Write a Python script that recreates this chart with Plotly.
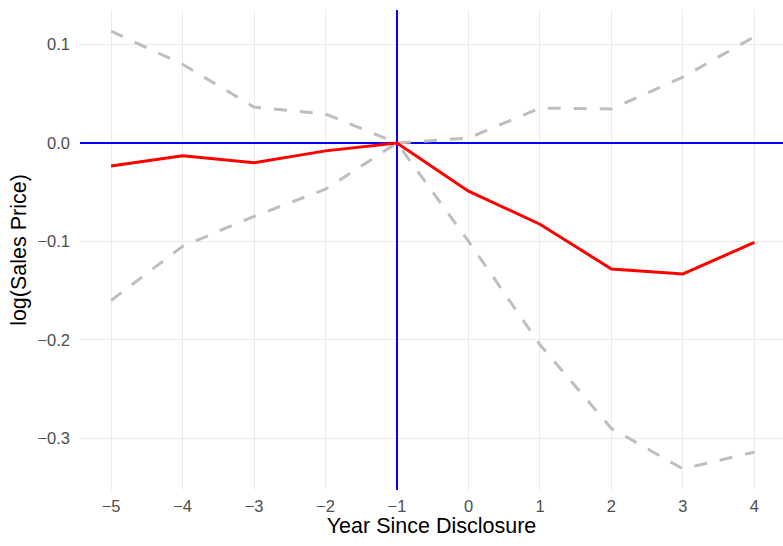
import plotly.graph_objects as go

# Event-study estimates of log sale price around disclosure
years = [-5, -4, -3, -2, -1, 0, 1, 2, 3, 4]
estimate = [-0.0234, -0.0130, -0.0200, -0.0080, 0.0, -0.0490, -0.0825, -0.1280, -0.1330, -0.1010]
upper_ci = [0.1136, 0.0800, 0.0365, 0.0295, 0.0, 0.0050, 0.0355, 0.0345, 0.0670, 0.1080]
lower_ci = [-0.1600, -0.1050, -0.0745, -0.0470, 0.0, -0.0998, -0.2050, -0.2900, -0.3310, -0.3140]
x_ticks = [-5, -4, -3, -2, -1, 0, 1, 2, 3, 4]
y_ticks = [-0.3, -0.2, -0.1, 0.0, 0.1]
y_tick_text = ["\u22120.3", "\u22120.2", "\u22120.1", "0.0", "0.1"]
x_tick_text = [("\u2212" + str(-v)) if v < 0 else str(v) for v in x_ticks]

# Reference values: no effect (0) and the omitted base year (-1)
ref_y = 0.0
ref_x = -1

x_range = [-5.435, 4.40]
y_range = [-0.3525, 0.1351]

ci_style = dict(color="#BEBEBE", width=3, dash="13px,13px")
ref_style = dict(color="#0000FF", width=2)

fig = go.Figure()
# Reference lines first so the estimates sit on top of them
fig.add_trace(go.Scatter(x=x_range, y=[ref_y, ref_y], mode="lines", line=ref_style,
                         showlegend=False, hoverinfo="skip"))
fig.add_trace(go.Scatter(x=[ref_x, ref_x], y=y_range, mode="lines", line=ref_style,
                         showlegend=False, hoverinfo="skip"))
fig.add_trace(go.Scatter(x=years, y=upper_ci, mode="lines", line=ci_style, showlegend=False))
fig.add_trace(go.Scatter(x=years, y=lower_ci, mode="lines", line=ci_style, showlegend=False))
fig.add_trace(go.Scatter(x=years, y=estimate, mode="lines",
                         line=dict(color="#FF0000", width=3), showlegend=False))

fig.update_layout(
    width=783, height=546,
    margin=dict(l=80, r=0, t=10, b=56),
    paper_bgcolor="white", plot_bgcolor="white",
    font=dict(family="Liberation Sans, Arial, sans-serif", color="#000000"),
)
fig.update_xaxes(
    range=x_range, tickvals=x_ticks, ticktext=x_tick_text,
    showgrid=True, gridcolor="#EBEBEB", gridwidth=1.1, zeroline=False,
    showline=False, ticks="", ticklabelstandoff=4,
    tickfont=dict(size=16.5, color="#4D4D4D"),
    title=dict(text="Year Since Disclosure", font=dict(size=21.5, color="#000000"), standoff=1),
)
fig.update_yaxes(
    range=y_range, tickvals=y_ticks, ticktext=y_tick_text,
    showgrid=True, gridcolor="#EBEBEB", gridwidth=1.1, zeroline=False,
    showline=False, ticks="", ticklabelstandoff=9,
    tickfont=dict(size=16.5, color="#4D4D4D"),
    title=dict(text="log(Sales Price)", font=dict(size=21.5, color="#000000"), standoff=4),
)

fig.write_html("out.html")
